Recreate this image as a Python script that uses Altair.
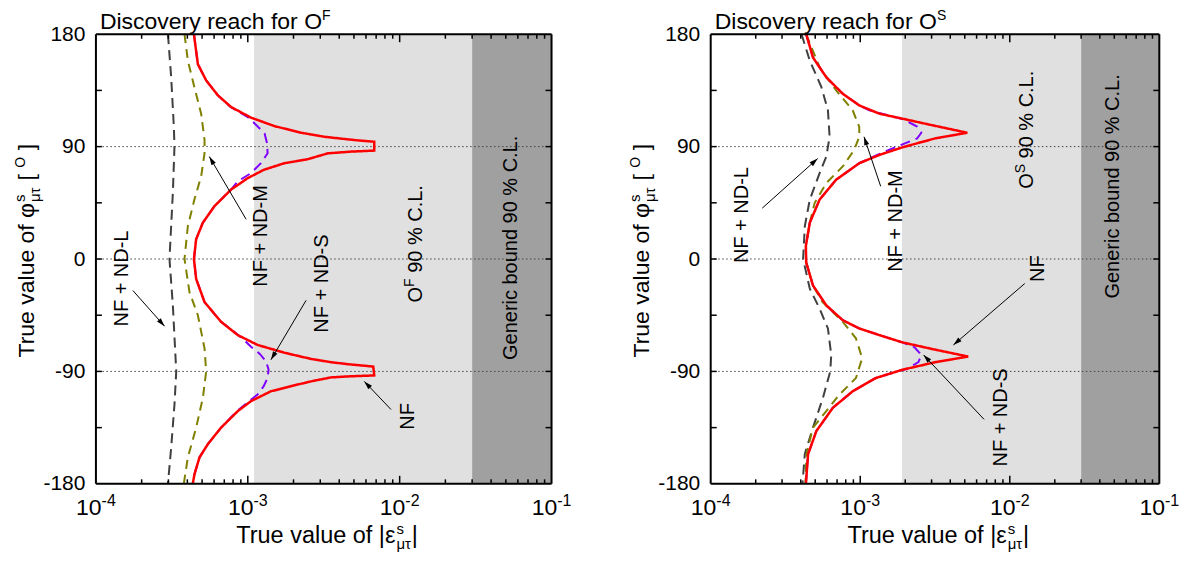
import math
import altair as alt
import pandas as pd

FONT = "Liberation Sans"
W_L, W_R, H = 456, 449, 450
X_DOMAIN = [1e-4, 1e-1]
Y_DOMAIN = [-180, 180]
Y_TICKS = [-180, -90, 0, 90, 180]
X_TICKS = [1e-4, 1e-3, 1e-2, 1e-1]
X_EXP = ["-4", "-3", "-2", "-1"]

# ---------------- data: left panel (O^F) ----------------
L_NF_PHI = [180, 156, 143, 131, 121.7, 113.2, 106.4, 101.1, 97.9, 96.1, 95.0, 93.9, 86.8, 86.0, 84.6, 79.9,
            76.7, 71.5, 64.8, 55.6, 42.3, 29.1, 15.9, 0, -15.9, -34.5, -50.3, -60.9, -68.8, -75, -80, -82.6,
            -84.2, -86.1, -93.2, -94, -94.8, -97.4, -101.1, -105.9, -113.8, -121.8, -135, -148.2, -158.8,
            -172.1, -180]
L_NF_EPS = [4.42e-4, 4.69e-4, 5.32e-4, 6.36e-4, 7.76e-4, 1.05e-3, 1.50e-3, 2.25e-3, 3.19e-3, 4.33e-3, 5.3e-3,
            6.8e-3, 6.8e-3, 4.79e-3, 3.36e-3, 2.48e-3, 1.74e-3, 1.28e-3, 1.0e-3, 7.76e-4, 6.03e-4, 5.06e-4,
            4.57e-4, 4.42e-4, 4.57e-4, 5.19e-4, 6.67e-4, 8.59e-4, 1.16e-3, 1.74e-3, 2.61e-3, 3.53e-3, 4.55e-3,
            6.7e-3, 6.8e-3, 4.55e-3, 3.53e-3, 2.74e-3, 2.03e-3, 1.42e-3, 1.05e-3, 8.59e-4, 6.67e-4, 5.46e-4,
            4.81e-4, 4.46e-4, 4.34e-4]
L_S_PHI = [180, 156, 143, 131, 121.7, 113.7, 108.5, 100.5, 92.6, 84.7, 76.7, 68.8, 62.2, 55.6, 42.3, 29.1,
           15.9, 0, -15.9, -34.5, -50.3, -58, -64, -70.2, -76, -82, -88.5, -95.3, -102, -108.5, -113.8,
           -121.8, -135, -148.2, -158.8, -172.1, -180]
L_S_EPS = [4.42e-4, 4.69e-4, 5.32e-4, 6.36e-4, 7.7e-4, 1.0e-3, 1.11e-3, 1.29e-3, 1.34e-3, 1.35e-3, 1.22e-3,
           1.05e-3, 8.6e-4, 7.76e-4, 6.03e-4, 5.06e-4, 4.57e-4, 4.42e-4, 4.57e-4, 5.19e-4, 6.67e-4, 8.1e-4,
           9.3e-4, 1.05e-3, 1.2e-3, 1.32e-3, 1.37e-3, 1.35e-3, 1.27e-3, 1.16e-3, 1.02e-3, 8.5e-4, 6.67e-4,
           5.46e-4, 4.81e-4, 4.46e-4, 4.34e-4]
L_M_PHI = [180, 158.8, 137.6, 116.4, 95.3, 84.7, 66.1, 47.6, 26.4, 0, -26.5, -45, -71.5, -90, -111.2, -135,
           -158.8, -180]
L_M_EPS = [3.83e-4, 4.03e-4, 4.45e-4, 4.93e-4, 5.19e-4, 5.19e-4, 4.93e-4, 4.45e-4, 4.03e-4, 3.83e-4, 4.13e-4,
           4.69e-4, 5.19e-4, 5.32e-4, 5.06e-4, 4.57e-4, 4.03e-4, 3.79e-4]
L_L_PHI = [180, 145.5, 105.8, 90, 52.9, 0, -37, -90, -116.5, -150.9, -180]
L_L_EPS = [2.98e-4, 3.13e-4, 3.26e-4, 3.29e-4, 3.21e-4, 3.05e-4, 3.21e-4, 3.38e-4, 3.29e-4, 3.13e-4, 2.98e-4]
L_LIGHT_LO = 1.1e-3

L_ANN_TEXT = ["NF + ND-L", "NF + ND-M", "NF + ND-S", "NF", "Generic bound 90 % C.L."]
L_ANN_X = [1.47e-4, 1.21e-3, 3.03e-3, 1.12e-2, 5.36e-2]
L_ANN_PHI = [-15.6, 18.5, -19.6, -126, 9.0]
L_CL_X, L_CL_PHI, L_CL_SUP = 1.26e-2, 12.2, "F"
L_AR_X1 = [1.75e-4, 9.75e-4, 2.42e-3, 8.77e-3]
L_AR_P1 = [-25.2, 31.8, -33.1, -120.5]
L_AR_X2 = [2.83e-4, 5.58e-4, 1.42e-3, 5.85e-3]
L_AR_P2 = [-53.8, 82.0, -80.7, -98.0]

# ---------------- data: right panel (O^S) ----------------
R_NF_PHI = [180, 161.4, 145.5, 132.3, 123, 116.4, 112.4, 107.2, 101.1, 96.6, 89.4, 83.3, 76.7, 63.5, 47.6,
            29.1, 10.6, -2.7, -21.2, -37.1, -49, -55.6, -60.9, -66.7, -72, -78.1, -82.6, -88.7, -95.3, -105.9,
            -119.1, -137.7, -156.2, -180]
R_NF_EPS = [4.35e-4, 4.83e-4, 5.93e-4, 7.64e-4, 9.85e-4, 1.34e-3, 1.91e-3, 3.01e-3, 5.2e-3, 3.17e-3, 1.91e-3,
            1.34e-3, 9.85e-4, 6.9e-4, 5.35e-4, 4.6e-4, 4.33e-4, 4.35e-4, 4.83e-4, 5.93e-4, 7.64e-4, 9.85e-4,
            1.34e-3, 1.91e-3, 3.01e-3, 5.27e-3, 3.17e-3, 1.91e-3, 1.27e-3, 8.9e-4, 6.56e-4, 5.09e-4, 4.48e-4,
            4.33e-4]
R_S_PHI = [180, 161.4, 145.5, 132.3, 123, 119.1, 111.7, 106, 101.1, 96.5, 92.6, 88, 83.3, 76.7, 63.5, 47.6,
           29.1, 10.6, -2.7, -21.2, -37.1, -49, -55.6, -60.9, -66.7, -70.5, -76.8, -82.5, -87.9, -91, -95.3,
           -105.9, -119.1, -137.7, -156.2, -180]
R_S_EPS = [4.35e-4, 4.83e-4, 5.93e-4, 7.64e-4, 9.85e-4, 1.15e-3, 1.96e-3, 2.4e-3, 2.56e-3, 2.4e-3, 1.99e-3,
           1.6e-3, 1.3e-3, 9.85e-4, 6.9e-4, 5.35e-4, 4.6e-4, 4.33e-4, 4.35e-4, 4.83e-4, 5.93e-4, 7.64e-4,
           9.85e-4, 1.34e-3, 1.91e-3, 2.3e-3, 2.56e-3, 2.45e-3, 2.06e-3, 1.65e-3, 1.27e-3, 8.9e-4, 6.56e-4,
           5.09e-4, 4.48e-4, 4.33e-4]
R_M_PHI = [180, 153.5, 135, 119.1, 105.8, 98, 87.4, 74.1, 60.8, 45, 29.1, 10.6, -2.7, -21.2, -34.5, -50.3,
           -63.5, -79.4, -95.3, -108.5, -121.8, -135, -156, -180]
R_M_EPS = [4.35e-4, 5.35e-4, 6.9e-4, 8.9e-4, 9.85e-4, 9.85e-4, 9.12e-4, 7.64e-4, 5.93e-4, 4.96e-4, 4.6e-4,
           4.33e-4, 4.35e-4, 4.83e-4, 5.6e-4, 7.64e-4, 9.36e-4, 1.03e-3, 9.36e-4, 7.26e-4, 5.93e-4, 4.83e-4,
           4.37e-4, 4.3e-4]
R_L_PHI = [180, 158.8, 137.6, 119.1, 97.9, 82, 68.8, 47.6, 26.4, 0, -23.8, -39.7, -55.6, -76.8, -90, -111.2,
           -135, -156, -180]
R_L_EPS = [4.05e-4, 4.6e-4, 5.5e-4, 6.08e-4, 6.24e-4, 5.93e-4, 5.35e-4, 4.6e-4, 4.26e-4, 4.15e-4, 4.6e-4,
           5.35e-4, 6.08e-4, 6.4e-4, 6.3e-4, 5.63e-4, 4.83e-4, 4.26e-4, 4.11e-4]
R_LIGHT_LO = 1.9e-3

R_ANN_TEXT = ["NF + ND-L", "NF + ND-M", "NF", "NF + ND-S", "Generic bound 90 % C.L."]
R_ANN_X = [1.60e-4, 1.70e-3, 1.53e-2, 8.59e-3, 4.81e-2]
R_ANN_PHI = [35.2, 30.4, -7.7, -126.8, 58.2]
R_CL_X, R_CL_PHI, R_CL_SUP = 1.28e-2, 103.5, "S"
R_AR_X1 = [2.21e-4, 1.37e-3, 1.26e-2, 6.73e-3]
R_AR_P1 = [40.7, 58.2, -19.6, -128.4]
R_AR_X2 = [5.19e-4, 1.06e-3, 4.2e-3, 2.65e-3]
R_AR_P2 = [80.4, 97.9, -68.8, -76.8]

GENERIC_BOUND = 3.0e-2

# ---------------- style / layout ----------------
C_LIGHT, C_DARK = "#e0e0e0", "#a0a0a0"
SERIES_STYLE = [  # (color, dash, width) drawn in this order
    ("#404040", [10, 6], 2.0),
    ("#808000", [9, 6], 2.0),
    ("#7f00ff", [10, 6], 2.0),
    ("#ff0000", [1, 0], 2.5),
]

WIDTHS = {' ': 278, '%': 889, '+': 584, '-': 333, '.': 278, '[': 278, ']': 278, '|': 260,
          'C': 722, 'D': 722, 'F': 611, 'G': 778, 'L': 556, 'M': 833, 'N': 722, 'O': 778, 'S': 667,
          'T': 611, 'a': 556, 'b': 556, 'c': 500, 'd': 556, 'e': 556, 'f': 278, 'h': 556, 'i': 222,
          'l': 222, 'n': 556, 'o': 556, 'r': 333, 's': 500, 'u': 556, 'v': 500, 'y': 500,
          'φ': 650, 'ε': 450, 'μ': 577, 'τ': 440}


def tw(s, size):
    return sum(WIDTHS.get(c, 556) for c in s) * size / 1000.0


def rich(x, phi, pieces, angle, W, mode):
    kx, ky = 3.0 / W, 360.0 / H
    total = sum(tw(t, s) for t, s, r, a in pieces if a)
    main = pieces[0][1]
    if mode == "center":
        start, cross = -total / 2, 0.35 * main
    elif mode == "bcenter":
        start, cross = -total / 2, 0.0
    else:
        start, cross = 0.0, 0.0
    rows, pos = [], start
    for t, s, r, a in pieces:
        lead = len(t) - len(t.lstrip(" "))
        shown = t.strip(" ")
        p0 = pos + tw(" " * lead, s)
        up = r - cross
        if angle == 0:
            lx = math.log10(x) + p0 * kx
            yy = phi + up * ky
        else:
            yy = phi + p0 * ky
            lx = math.log10(x) - up * kx
        if shown:
            rows.append({"x": 10 ** lx, "y": yy, "t": shown, "s": s, "a": angle})
        if a:
            pos += tw(t, s)
    return rows


def panel(W, curves, light_lo, ann_text, ann_x, ann_phi, cl, arrows, sup):
    kx, ky = 3.0 / W, 360.0 / H
    xs = alt.Scale(type="log", domain=X_DOMAIN, nice=False)
    ys = alt.Scale(domain=Y_DOMAIN, nice=False, zero=False)
    yaxis = alt.Axis(values=Y_TICKS, labelFontSize=21, labelFont=FONT, labelColor="black",
                     ticks=False, domain=False, grid=False, title=None, labelPadding=11,
                     labelExpr="replace(datum.label, '\u2212', '-')")

    def X(f):
        return alt.X(f"{f}:Q", scale=xs, axis=None)

    def Y(f):
        return alt.Y(f"{f}:Q", scale=ys, axis=yaxis)

    layers = []
    shade = pd.DataFrame({"x": [light_lo, GENERIC_BOUND], "x2": [GENERIC_BOUND, X_DOMAIN[1]],
                          "y": [-180, -180], "y2": [180, 180], "c": [C_LIGHT, C_DARK]})
    layers.append(alt.Chart(shade).mark_rect().encode(
        x=X("x"), x2="x2", y=Y("y"), y2="y2", color=alt.Color("c:N", scale=None)))

    dots = pd.DataFrame({"y": [-90, 0, 90]})
    layers.append(alt.Chart(dots).mark_rule(color="#444444", strokeWidth=1, strokeDash=[1.5, 2.5]).encode(
        y=Y("y")))

    for (phi, eps), (col, dash, wd) in zip(curves, SERIES_STYLE):
        df = pd.DataFrame({"x": eps, "y": phi, "i": list(range(len(phi)))})
        layers.append(alt.Chart(df).mark_line(color=col, strokeDash=dash, strokeWidth=wd).encode(
            x=X("x"), y=Y("y"), order=alt.Order("i:Q")))

    # inward ticks
    vt, ht = [], []
    for dec in [1e-4, 1e-3, 1e-2]:
        for m in range(1, 10):
            v = dec * m
            if v <= X_DOMAIN[0] * 1.0001 or v >= X_DOMAIN[1] * 0.9999:
                continue
            L = 8 if m == 1 else 4.5
            vt.append({"x": v, "y": -180, "y2": -180 + L * ky})
            vt.append({"x": v, "y": 180, "y2": 180 - L * ky})
    for p in [-135, -90, -45, 0, 45, 90, 135]:
        L = 6
        ht.append({"x": X_DOMAIN[0], "x2": X_DOMAIN[0] * 10 ** (L * kx), "y": p})
        ht.append({"x": X_DOMAIN[1], "x2": X_DOMAIN[1] / 10 ** (L * kx), "y": p})
    layers.append(alt.Chart(pd.DataFrame(vt)).mark_rule(color="black", strokeWidth=1.5).encode(
        x=X("x"), y=Y("y"), y2="y2"))
    layers.append(alt.Chart(pd.DataFrame(ht)).mark_rule(color="black", strokeWidth=1.5).encode(
        x=X("x"), x2="x2", y=Y("y")))

    # frame
    fv = pd.DataFrame({"x": X_DOMAIN, "y": [-180, -180], "y2": [180, 180]})
    fh = pd.DataFrame({"x": [X_DOMAIN[0]] * 2, "x2": [X_DOMAIN[1]] * 2, "y": [-180, 180]})
    layers.append(alt.Chart(fv).mark_rule(color="black", strokeWidth=2).encode(x=X("x"), y=Y("y"), y2="y2"))
    layers.append(alt.Chart(fh).mark_rule(color="black", strokeWidth=2).encode(x=X("x"), x2="x2", y=Y("y")))

    # arrows
    x1, p1, x2, p2 = arrows
    ar = []
    for a, b, c, d in zip(x1, p1, x2, p2):
        dxp = (math.log10(c) - math.log10(a)) / kx
        dyp = -(d - b) / ky
        ang = math.degrees(math.atan2(dxp, -dyp)) % 360
        ar.append({"x": a, "y": b, "x2": c, "y2": d, "ang": ang})
    ar = pd.DataFrame(ar)
    layers.append(alt.Chart(ar).mark_rule(color="black", strokeWidth=1).encode(
        x=X("x"), x2="x2", y=Y("y"), y2="y2"))
    layers.append(alt.Chart(ar).mark_point(shape="M0,0L0.6,2L-0.6,2Z", filled=True, size=72,
                                           color="black", opacity=1, strokeWidth=0).encode(
        x=X("x2"), y=Y("y2"), angle=alt.Angle("ang:Q", scale=None)))

    # texts
    rows = []
    for t, xv, pv in zip(ann_text, ann_x, ann_phi):
        rows += rich(xv, pv, [(t, 20, 0, True)], 270, W, "center")
    rows += rich(cl[0], cl[1], [("O", 20, 0, True), (sup, 14, 8, True), (" 90 % C.L.", 20, 0, True)],
                 270, W, "center")
    # tick labels
    for v, e in zip(X_TICKS, X_EXP):
        rows += rich(v, -180 - 31.5 * ky, [("10", 23, 0, True), (e, 16, 9.5, True)], 0, W, "bcenter")
    # title
    rows += rich(10 ** (-4 + 4 * kx), 180 + 5.6 * ky,
                 [("Discovery reach for O", 23, 0, True), (sup, 14, 8.5, True)], 0, W, "start")
    # x axis title
    rows += rich(10 ** (-2.5 + 3.3 * kx), -180 - 59.5 * ky,
                 [("True value of |ε", 23.5, 0, True), ("s", 15, 9, False), ("μτ", 15, -6, True),
                  ("|", 23.5, 0, True)], 0, W, "bcenter")
    # y axis title
    rows += rich(10 ** (-4 - 61.7 * kx), 8.3 * ky,
                 [("True value of φ", 23, 0, True), ("s", 15, 9, False), ("μτ", 15, -6, True),
                  (" [ ", 23, 0, True), ("O", 14, 9, True), (" ]", 23, 0, True)], 270, W, "bcenter")
    tdf = pd.DataFrame(rows)
    layers.append(alt.Chart(tdf).mark_text(align="left", baseline="alphabetic", font=FONT,
                                           color="black").encode(
        x=X("x"), y=Y("y"), text="t:N", size=alt.Size("s:Q", scale=None),
        angle=alt.Angle("a:Q", scale=None)))

    return alt.layer(*layers).properties(width=W, height=H)


left = panel(W_L,
             [(L_L_PHI, L_L_EPS), (L_M_PHI, L_M_EPS), (L_S_PHI, L_S_EPS), (L_NF_PHI, L_NF_EPS)],
             L_LIGHT_LO, L_ANN_TEXT, L_ANN_X, L_ANN_PHI, (L_CL_X, L_CL_PHI),
             (L_AR_X1, L_AR_P1, L_AR_X2, L_AR_P2), L_CL_SUP)
right = panel(W_R,
              [(R_L_PHI, R_L_EPS), (R_M_PHI, R_M_EPS), (R_S_PHI, R_S_EPS), (R_NF_PHI, R_NF_EPS)],
              R_LIGHT_LO, R_ANN_TEXT, R_ANN_X, R_ANN_PHI, (R_CL_X, R_CL_PHI),
              (R_AR_X1, R_AR_P1, R_AR_X2, R_AR_P2), R_CL_SUP)

chart = alt.hconcat(left, right, spacing=159.3, bounds="flush").properties(
    padding={"left": 5, "top": 0, "right": 0, "bottom": 0}
).configure_view(stroke=None)

chart.save("out.html", embed_options={"renderer": "svg", "actions": False})
